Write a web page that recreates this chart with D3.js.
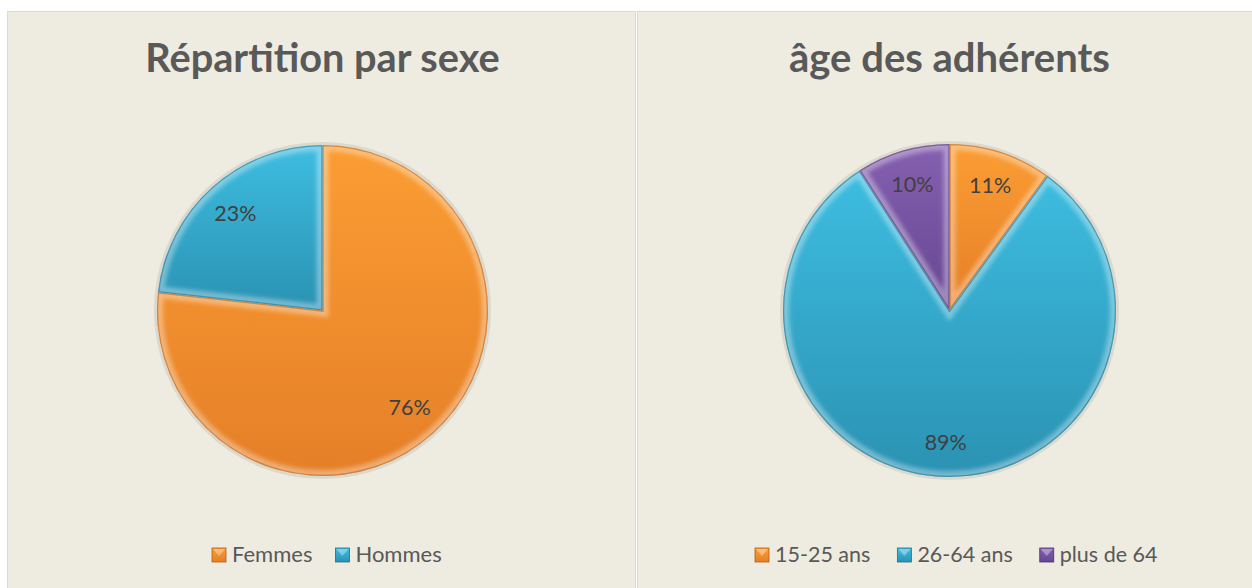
<!DOCTYPE html>
<html>
<head>
<meta charset="utf-8">
<script src="https://cdn.jsdelivr.net/npm/d3@7"></script>
<style>
  body { margin: 0; background: #fff; }
  svg { display: block; }
  text { font-family: Lato, "Open Sans", sans-serif; }
</style>
</head>
<body>
<div id="chart"></div>
<script>
// chart data
var sexeLabels = ["Femmes", "Hommes"];
var sexeValues = [76, 23];
var ageLabels = ["15-25 ans", "26-64 ans", "plus de 64"];
var ageValues = [11, 89, 10];

var width = 1252, height = 588;

// colours of the slices: [top, bottom, rim]
var palette = {
  orange: ["#fb9d33", "#e57f28", "#b35d17"],
  blue:   ["#3dbde0", "#2b92b3", "#1d6f8a"],
  purple: ["#8660b0", "#654693", "#4a3172"]
};

var svg = d3.select("#chart").append("svg")
  .attr("width", width)
  .attr("height", height);

var defs = svg.append("defs");

// vertical gradients for each colour
Object.keys(palette).forEach(function(k) {
  var g = defs.append("linearGradient")
    .attr("id", "grad-" + k)
    .attr("x1", 0).attr("y1", 0).attr("x2", 0).attr("y2", 1);
  g.append("stop").attr("offset", "0%").attr("stop-color", palette[k][0]);
  g.append("stop").attr("offset", "100%").attr("stop-color", palette[k][1]);
});

// soft blur for the bevel highlight
defs.append("filter").attr("id", "soft")
  .attr("x", "-10%").attr("y", "-10%").attr("width", "120%").attr("height", "120%")
  .append("feGaussianBlur").attr("stdDeviation", 2.2);

// panels
svg.append("rect")
  .attr("x", 7.5).attr("y", 11.5)
  .attr("width", 628).attr("height", 590)
  .attr("fill", "#eeebe0").attr("stroke", "#d9d9d9");
svg.append("rect")
  .attr("x", 637.5).attr("y", 11.5)
  .attr("width", 630).attr("height", 590)
  .attr("fill", "#eeebe0").attr("stroke", "#d9d9d9");

function drawPie(opts) {
  var g = svg.append("g");

  g.append("text")
    .attr("x", opts.cx)
    .attr("y", 72)
    .attr("text-anchor", "middle")
    .style("font-size", opts.titleSize + "px")
    .style("font-weight", "bold")
    .attr("fill", "#595959")
    .text(opts.title);

  var pie = d3.pie().sort(null).value(function(d) { return d; });
  var arcs = pie(opts.values);
  var r = opts.r;
  var arc = d3.arc().innerRadius(0).outerRadius(r);
  var labelArc = d3.arc().innerRadius(r * 0.79).outerRadius(r * 0.79);

  var pg = g.append("g")
    .attr("transform", "translate(" + opts.cx + "," + opts.cy + ")");

  // faint shadow ring
  pg.append("circle")
    .attr("r", r + 1.5)
    .attr("fill", "none")
    .attr("stroke", "#000")
    .attr("stroke-opacity", 0.08)
    .attr("stroke-width", 3);

  arcs.forEach(function(a, i) {
    var col = opts.colors[i];
    var id = opts.key + "-clip-" + i;
    defs.append("clipPath")
      .attr("id", id)
      .attr("transform", "translate(" + opts.cx + "," + opts.cy + ")")
      .append("path").attr("d", arc(a));

    pg.append("path")
      .attr("d", arc(a))
      .attr("fill", "url(#grad-" + col + ")")
      .attr("stroke", "none");

    // bevel: light inner edge and darker rim
    var bev = pg.append("g").attr("clip-path", "url(#" + id + ")")
      .attr("transform", "translate(" + (-opts.cx) + "," + (-opts.cy) + ")");
    bev.append("path")
      .attr("transform", "translate(" + opts.cx + "," + opts.cy + ")")
      .attr("d", arc(a))
      .attr("fill", "none")
      .attr("stroke", "#fff")
      .attr("stroke-opacity", 0.35)
      .attr("stroke-width", 12)
      .attr("filter", "url(#soft)");
    bev.append("path")
      .attr("transform", "translate(" + opts.cx + "," + opts.cy + ")")
      .attr("d", arc(a))
      .attr("fill", "none")
      .attr("stroke", palette[col][2])
      .attr("stroke-opacity", 0.55)
      .attr("stroke-width", 2.5);
  });

  // percentage labels
  pg.selectAll("text.pct")
    .data(arcs)
    .enter().append("text")
    .attr("class", "pct")
    .attr("transform", function(d) { return "translate(" + labelArc.centroid(d) + ")"; })
    .attr("text-anchor", "middle")
    .attr("dy", "0.35em")
    .style("font-size", "21.5px")
    .attr("fill", "#404040")
    .text(function(d, i) { return opts.values[i] + "%"; });

  // legend
  var lg = g.append("g");
  var x = opts.legendX;
  opts.labels.forEach(function(lab, i) {
    var col = opts.colors[i];
    var item = lg.append("g").attr("transform", "translate(" + x + ",548)");
    item.append("rect")
      .attr("width", 14).attr("height", 14)
      .attr("fill", "url(#grad-" + col + ")")
      .attr("stroke", palette[col][2]).attr("stroke-width", 0.8);
    item.append("path")
      .attr("d", "M1,1 L13,1 L7,8 Z")
      .attr("fill", "#fff").attr("fill-opacity", 0.35);
    var t = item.append("text")
      .attr("x", 20).attr("y", 14)
      .style("font-size", opts.legendSize + "px")
      .attr("fill", "#595959")
      .text(lab);
    x += 20 + t.node().getComputedTextLength() + opts.legendGap;
  });
}

drawPie({
  key: "sexe",
  title: "Répartition par sexe",
  titleSize: 39.7,
  values: sexeValues,
  labels: sexeLabels,
  colors: ["orange", "blue"],
  cx: 322.5, cy: 310.5, r: 165.5,
  legendX: 212, legendGap: 23, legendSize: 22
});

drawPie({
  key: "age",
  title: "âge des adhérents",
  titleSize: 40,
  values: ageValues,
  labels: ageLabels,
  colors: ["orange", "blue", "purple"],
  cx: 949.5, cy: 310.5, r: 166.5,
  legendX: 755, legendGap: 27, legendSize: 21.5
});
</script>
</body>
</html>
